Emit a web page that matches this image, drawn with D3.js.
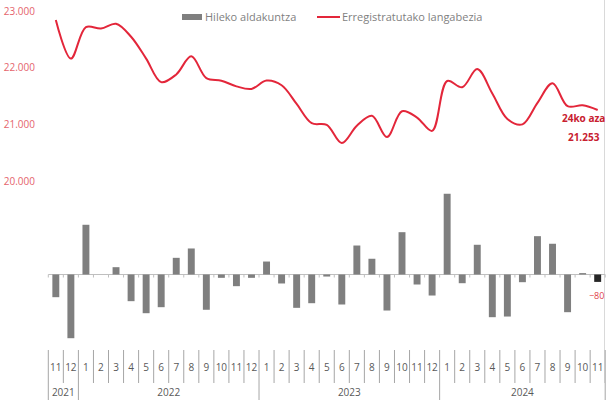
<!DOCTYPE html>
<html>
<head>
<meta charset="utf-8">
<script src="https://cdn.jsdelivr.net/npm/d3@7"></script>
<style>
  html, body { margin: 0; padding: 0; background: #fff; }
  svg { display: block; }
  text { font-family: "Segoe UI", "Open Sans", "Noto Sans", sans-serif; }
</style>
</head>
<body>
<svg id="chart" width="606" height="403"></svg>
<script>
// ---- Data ----
const months = ["11","12","1","2","3","4","5","6","7","8","9","10","11","12",
                "1","2","3","4","5","6","7","8","9","10","11","12",
                "1","2","3","4","5","6","7","8","9","10","11"];
const years = ["2021","2022","2023","2024"];
const yearSpans = [2, 12, 12, 11];

// Registered unemployment (line)
const unemployment = [22840, 22160, 22715, 22690, 22775, 22545, 22160, 21745, 21880, 22200,
                      21815, 21770, 21670, 21625, 21772, 21690, 21360, 21020, 20990, 20670,
                      20975, 21150, 20775, 21230, 21120, 20885, 21765, 21655, 21975, 21545,
                      21095, 21000, 21380, 21725, 21320, 21335, 21253];
// Monthly change (bars)
const monthlyChange = [-245, -688, 537, 0, 79, -288, -418, -353, 180, 281,
                       -381, -36, -126, -36, 140, -97, -360, -310, -22, -324,
                       313, 170, -389, 457, -108, -227, 872, -94, 321, -461,
                       -454, -83, 414, 332, -407, 15, -80];
const yTicks = [20000, 21000, 22000, 23000];
const legendLabels = ["Hileko aldakuntza", "Erregistratutako langabezia"];
const lastLabel = ["24ko aza", "21.253"];

// ---- Setup ----
const svg = d3.select("#chart");
const idx = d3.range(months.length);

const x = d3.scaleBand().domain(idx).range([48.3, 605.2]).paddingInner(0).paddingOuter(0);
const bw = x.bandwidth();
const yLine = d3.scaleLinear().domain([20000, 23000]).range([181, 11]);
const yBar = d3.scaleLinear().domain([0, 900]).range([274.5, 274.5 - 900 / 10.8]);

const fmt = d3.formatLocale({decimal: ",", thousands: ".", grouping: [3], currency: ["", "€"]}).format(",");

// Right border line
svg.append("line")
  .attr("x1", 604.5).attr("x2", 604.5).attr("y1", 0).attr("y2", 383)
  .attr("stroke", "#d9d9d9").attr("stroke-width", 1);

// Y-axis labels (line scale)
const yAxis = d3.axisLeft(yLine).tickValues(yTicks).tickFormat(fmt).tickSize(0).tickPadding(0);
const gy = svg.append("g").attr("transform", "translate(35,0)").call(yAxis);
gy.select(".domain").remove();
gy.selectAll("text")
  .attr("fill", "#e5646c")
  .style("font-size", "10px")
  .style("font-family", "\"Segoe UI\", \"Open Sans\", \"Noto Sans\", sans-serif");

// Baseline with ticks
const base = yBar(0);
svg.append("line")
  .attr("x1", 48.3).attr("x2", 605.2).attr("y1", base).attr("y2", base)
  .attr("stroke", "#bfbfbf").attr("stroke-width", 1);
svg.append("g").selectAll("line")
  .data(d3.range(months.length + 1))
  .join("line")
  .attr("x1", i => 48.3 + i * bw).attr("x2", i => 48.3 + i * bw)
  .attr("y1", base).attr("y2", base + 3)
  .attr("stroke", "#bfbfbf").attr("stroke-width", 1);

// Bars
svg.append("g").selectAll("rect")
  .data(monthlyChange)
  .join("rect")
  .attr("x", (d, i) => x(i) + bw * 0.27)
  .attr("width", bw * 0.46)
  .attr("y", d => Math.min(yBar(d), yBar(0)))
  .attr("height", d => Math.abs(yBar(d) - yBar(0)))
  .attr("fill", (d, i) => i === monthlyChange.length - 1 ? "#262626" : "#7f7f7f");

// Last bar label
svg.append("text")
  .attr("x", x(idx.length - 1) + bw / 2 - 1)
  .attr("y", yBar(monthlyChange[monthlyChange.length - 1]) + 17)
  .attr("text-anchor", "middle")
  .attr("fill", "#e0404a")
  .style("font-size", "9px")
  .text(fmt(monthlyChange[monthlyChange.length - 1]));

// Line
const line = d3.line()
  .x((d, i) => x(i) + bw / 2)
  .y(d => yLine(d))
  .curve(d3.curveCatmullRom.alpha(0.5));
svg.append("path")
  .datum(unemployment)
  .attr("d", line)
  .attr("fill", "none")
  .attr("stroke", "#e3263a")
  .attr("stroke-width", 2);

// Last point label
const lx = x(idx.length - 1) + bw / 2 - 14;
const ly = yLine(unemployment[unemployment.length - 1]);
svg.append("text")
  .attr("x", lx).attr("y", ly + 12.5)
  .attr("text-anchor", "middle").attr("fill", "#c8202f")
  .style("font-size", "10px").style("font-weight", "bold")
  .text(lastLabel[0]);
svg.append("text")
  .attr("x", lx).attr("y", ly + 31)
  .attr("text-anchor", "middle").attr("fill", "#c8202f")
  .style("font-size", "10px").style("font-weight", "bold")
  .text(lastLabel[1]);

// Legend
const lg = svg.append("g");
lg.append("rect").attr("x", 182).attr("y", 14).attr("width", 20).attr("height", 6).attr("fill", "#7f7f7f");
lg.append("text").attr("x", 205).attr("y", 21).attr("fill", "#7f7f7f")
  .style("font-size", "11px").text(legendLabels[0]);
lg.append("line").attr("x1", 317).attr("x2", 340).attr("y1", 17).attr("y2", 17)
  .attr("stroke", "#e3263a").attr("stroke-width", 2);
lg.append("text").attr("x", 342).attr("y", 21).attr("fill", "#7f7f7f")
  .style("font-size", "11px").text(legendLabels[1]);

// Month labels
svg.append("g").selectAll("text")
  .data(months)
  .join("text")
  .attr("x", (d, i) => x(i) + bw / 2)
  .attr("y", 370.5)
  .attr("text-anchor", "middle")
  .attr("fill", "#595959")
  .style("font-size", "10px")
  .text(d => d);

// Separators
const yearStarts = [0];
yearSpans.forEach((s, k) => yearStarts.push(yearStarts[k] + s));
svg.append("g").selectAll("line")
  .data(d3.range(months.length + 1))
  .join("line")
  .attr("x1", i => 48.3 + i * bw).attr("x2", i => 48.3 + i * bw)
  .attr("y1", 350)
  .attr("y2", i => yearStarts.includes(i) ? 400 : 383)
  .attr("stroke", "#a6a6a6").attr("stroke-width", 1);

// Year labels
svg.append("g").selectAll("text")
  .data(years)
  .join("text")
  .attr("x", (d, k) => 48.3 + (yearStarts[k] + yearSpans[k] / 2) * bw)
  .attr("y", 396)
  .attr("text-anchor", "middle")
  .attr("fill", "#595959")
  .style("font-size", "10px")
  .text(d => d);
</script>
</body>
</html>
